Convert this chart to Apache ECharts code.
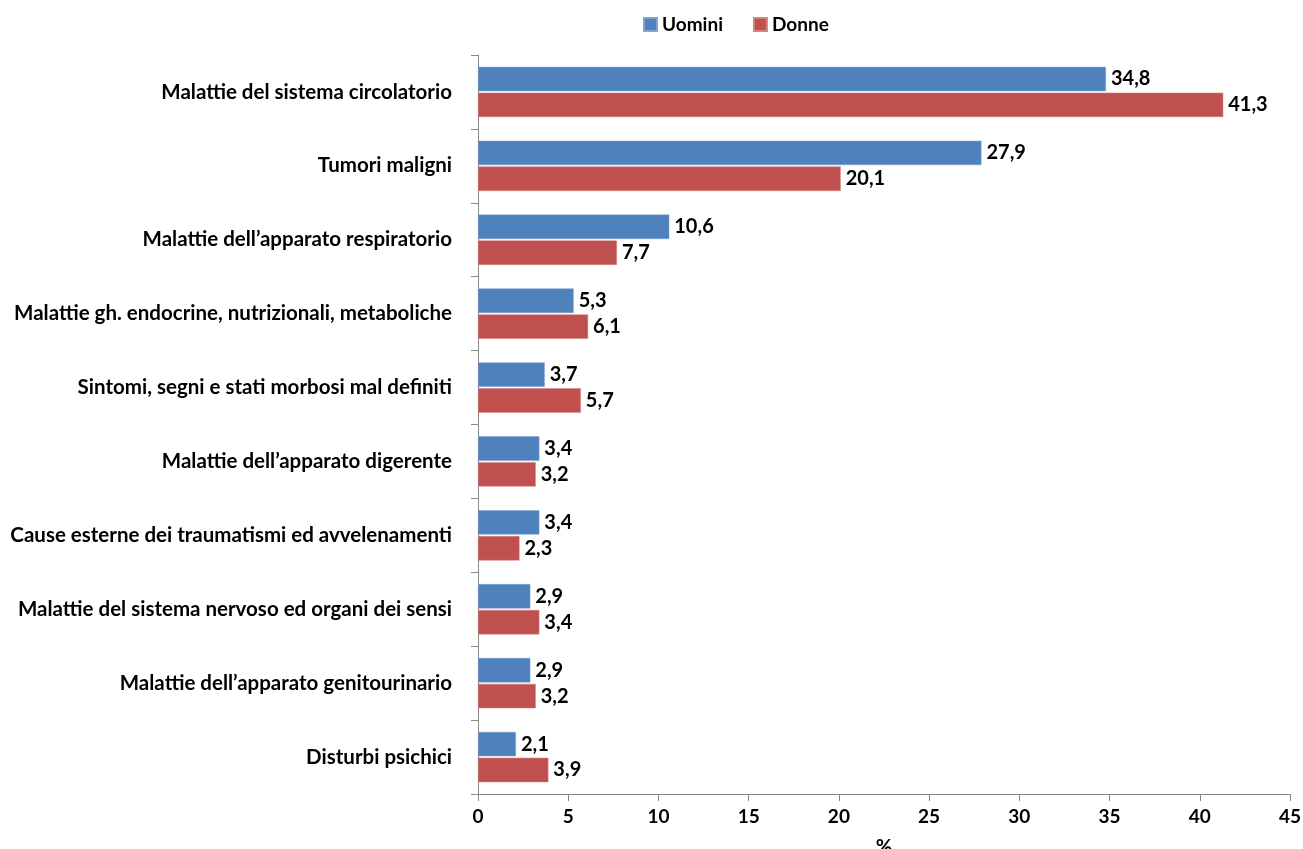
<!DOCTYPE html>
<html>
<head>
<meta charset="utf-8">
<script src="https://cdn.jsdelivr.net/npm/echarts@6/dist/echarts.min.js"></script>
<style>
  html, body { margin: 0; padding: 0; background: #fff; }
  #chart { width: 1303px; height: 849px; }
</style>
</head>
<body>
<div id="chart"></div>
<script>
const categorie = [
  'Malattie del sistema circolatorio',
  'Tumori maligni',
  'Malattie dell\u2019apparato respiratorio',
  'Malattie gh. endocrine, nutrizionali, metaboliche',
  'Sintomi, segni e stati morbosi mal definiti',
  'Malattie dell\u2019apparato digerente',
  'Cause esterne dei traumatismi ed avvelenamenti',
  'Malattie del sistema nervoso ed organi dei sensi',
  'Malattie dell\u2019apparato genitourinario',
  'Disturbi psichici'
];
const uomini = [34.8, 27.9, 10.6, 5.3, 3.7, 3.4, 3.4, 2.9, 2.9, 2.1];
const donne = [41.3, 20.1, 7.7, 6.1, 5.7, 3.2, 2.3, 3.4, 3.2, 3.9];

const font = 'Lato, "Open Sans", sans-serif';
const virgola = (p) => p.value.toFixed(1).replace('.', ',');

const myChart = echarts.init(document.getElementById('chart'));

const labelStyle = {
  show: true,
  position: 'right',
  distance: 5,
  color: '#000',
  fontSize: 20,
  fontWeight: 'bold',
  fontFamily: font,
  formatter: virgola
};

const option = {
  animation: false,
  backgroundColor: '#fff',
  legend: {
    top: 10,
    left: 638,
    itemWidth: 13,
    itemHeight: 13,
    itemGap: 30,
    icon: 'rect',
    textStyle: { fontSize: 19, fontWeight: 'bold', color: '#000', fontFamily: font },
    data: ['Uomini', 'Donne']
  },
  grid: { left: 478, right: 13, top: 55, bottom: 55, outerBoundsMode: 'none', containLabel: false },
  xAxis: {
    type: 'value',
    min: 0,
    max: 45,
    interval: 5,
    name: '%',
    nameLocation: 'middle',
    nameGap: 44,
    nameTextStyle: { fontSize: 20, fontWeight: 'bold', color: '#000', fontFamily: font },
    axisLine: { show: true, lineStyle: { color: '#888', width: 1 } },
    axisTick: { show: true, length: 7, lineStyle: { color: '#888' } },
    axisLabel: { fontSize: 19, fontWeight: 'bold', color: '#000', fontFamily: font, margin: 13 },
    splitLine: { show: false }
  },
  yAxis: {
    type: 'category',
    inverse: true,
    data: categorie,
    axisLine: { show: true, lineStyle: { color: '#888', width: 1 } },
    axisTick: { show: true, length: 7, lineStyle: { color: '#888' } },
    axisLabel: { fontSize: 20.5, fontWeight: 'bold', color: '#000', fontFamily: font, margin: 26 }
  },
  series: [
    {
      name: 'Uomini',
      type: 'bar',
      data: uomini,
      barGap: '6%',
      barCategoryGap: '32%',
      itemStyle: { color: '#4F81BD', borderColor: '#7FA3D3', borderWidth: 0.5 },
      label: labelStyle
    },
    {
      name: 'Donne',
      type: 'bar',
      data: donne,
      itemStyle: { color: '#C0504D', borderColor: '#D58480', borderWidth: 0.5 },
      label: labelStyle
    }
  ]
};

myChart.setOption(option);
</script>
</body>
</html>
